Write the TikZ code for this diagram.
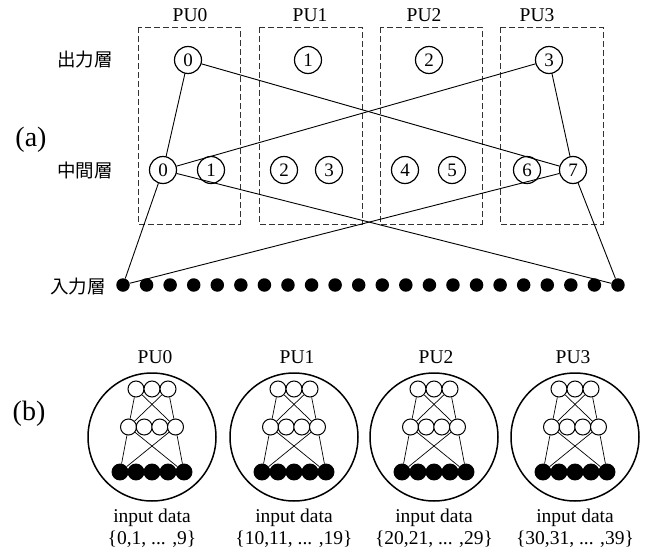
\documentclass[tikz,border=0pt]{standalone}
\usepackage{fontspec}
\setmainfont{Liberation Serif}
\newfontfamily\jpfont{Noto Sans CJK JP}
\begin{document}
\begin{tikzpicture}[x=1pt,y=-1pt,
  unit/.style={circle,draw,line width=1.2pt,minimum size=27pt,inner sep=0pt,font=\fontsize{19}{19}\selectfont},
  inp/.style={circle,fill=black,minimum size=13.5pt,inner sep=0pt},
  pubox/.style={line width=0.9pt,dash pattern=on 6pt off 3pt,draw=black!80},
  conn/.style={line width=0.9pt},
  lab/.style={font=\fontsize{19.5}{20}\selectfont,inner sep=0pt},
  plab/.style={font=\fontsize{28}{28}\selectfont,inner sep=0pt},
  jlab/.style={font=\jpfont\fontsize{18.5}{18.5}\selectfont,inner sep=0pt},
  big/.style={circle,draw,line width=1.5pt,minimum size=128pt,inner sep=0pt},
  wn/.style={circle,draw,line width=1pt,minimum size=16pt,inner sep=0pt,fill=white},
  bn/.style={circle,draw,line width=0.9pt,fill=black,minimum size=16pt,inner sep=0pt},
  mini/.style={line width=0.7pt}]
\fill[white] (0,0) rectangle (649,557);
\useasboundingbox (0,0) rectangle (649,557);

% ---------- (a) ----------
\node[plab] (la) at (31,140) {(a)};
\node[jlab] (lout) at (85,60) {出力層};
\node[jlab] (lhid) at (85,170) {中間層};
\node[jlab] (lin) at (78,287) {入力層};

% dashed PU boxes
\draw[pubox] (138,27) rectangle (240,224);
\draw[pubox] (259,27) rectangle (362,224);
\draw[pubox] (380,27) rectangle (482,224);
\draw[pubox] (500,27) rectangle (603,224);
\node[lab] (pa0) at (190,15) {PU0};
\node[lab] (pa1) at (310,15) {PU1};
\node[lab] (pa2) at (424,15) {PU2};
\node[lab] (pa3) at (537,15) {PU3};

% output units
\node[unit] (o0) at (188,60) {0};
\node[unit] (o1) at (308,60) {1};
\node[unit] (o2) at (429,60) {2};
\node[unit] (o3) at (549,60) {3};

% hidden units
\node[unit] (h0) at (163,170) {0};
\node[unit] (h1) at (211,170) {1};
\node[unit] (h2) at (284,170) {2};
\node[unit] (h3) at (329,170) {3};
\node[unit] (h4) at (405,170) {4};
\node[unit] (h5) at (452,170) {5};
\node[unit] (h6) at (527,170) {6};
\node[unit] (h7) at (573,170) {7};

% input units
\foreach \i in {0,...,21}
  \node[inp] (in\i) at ({123+23.57*\i},285) {};

% connectors
\draw[conn] (o0) -- (h0);
\draw[conn] (o0) -- (h7);
\draw[conn] (o3) -- (h0);
\draw[conn] (o3) -- (h7);
\draw[conn] (h0) -- (in0);
\draw[conn] (h0) -- (in21);
\draw[conn] (h7) -- (in0);
\draw[conn] (h7) -- (in21);

% ---------- (b) ----------
\node[plab] (lb) at (29,414) {(b)};

\foreach \k/\cx/\lx/\ltxt in {0/152/155/{\{0,1, ... ,9\}},1/294/297/{\{10,11, ... ,19\}},2/434/436/{\{20,21, ... ,29\}},3/575/573/{\{30,31, ... ,39\}}}{
  \node[lab] (pb\k) at (\lx,357) {PU\k};
  \node[big] (c\k) at (\cx,437) {};
  \node[lab] (id\k) at (\cx,518) {input data};
  \node[lab] (set\k) at (\cx,539) {\ltxt};
  % bottom row
  \foreach \j in {1,...,5}
    \node[bn] (b\k\j) at ({\cx+16*(\j-3)},472) {};
  % middle row
  \node[wn] (m\k1) at ({\cx-23.5},427) {};
  \node[wn] (m\k2) at ({\cx-7.8},427) {};
  \node[wn] (m\k3) at ({\cx+7.8},427) {};
  \node[wn] (m\k4) at ({\cx+23.5},427) {};
  % top row
  \node[wn] (t\k1) at ({\cx-16},389) {};
  \node[wn] (t\k2) at (\cx,389) {};
  \node[wn] (t\k3) at ({\cx+16},389) {};
  \draw[mini] (t\k1) -- (m\k1);
  \draw[mini] (t\k3) -- (m\k4);
  \draw[mini] (t\k1) -- (m\k4);
  \draw[mini] (t\k3) -- (m\k1);
  \draw[mini] (m\k1) -- (b\k1);
  \draw[mini] (m\k4) -- (b\k5);
  \draw[mini] (m\k1) -- (b\k5);
  \draw[mini] (m\k4) -- (b\k1);
}
\end{tikzpicture}
\end{document}
